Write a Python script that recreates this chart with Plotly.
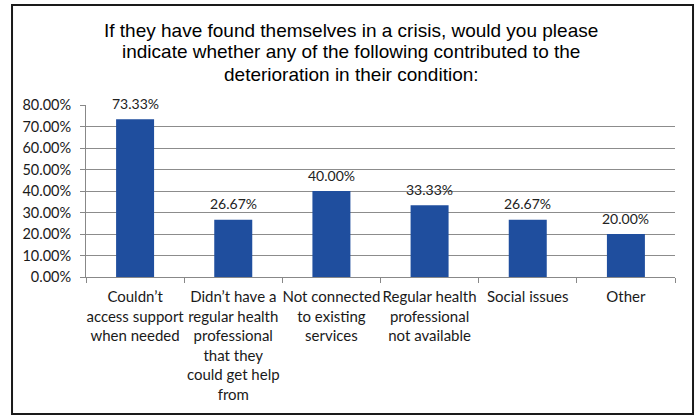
import plotly.graph_objects as go

# Survey responses: contributing factors to deterioration
categories = [
    "Couldn’t<br>access support<br>when needed",
    "Didn’t have a<br>regular health<br>professional<br>that they<br>could get help<br>from",
    "Not connected<br>to existing<br>services",
    "Regular health<br>professional<br>not available",
    "Social issues",
    "Other",
]
values = [0.7333, 0.2667, 0.40, 0.3333, 0.2667, 0.20]
value_labels = ["73.33%", "26.67%", "40.00%", "33.33%", "26.67%", "20.00%"]

title_lines = [
    "If they have found themselves in a crisis, would you please",
    "indicate whether any of the following contributed to the",
    "deterioration in their condition:",
]

x_font = dict(family="Lato, Carlito, Calibri, sans-serif", size=15, color="#1a1a1a")
y_font = dict(family="Lato, Carlito, Calibri, sans-serif", size=14.5, color="#1a1a1a")
val_font = dict(family="Lato, Carlito, Calibri, sans-serif", size=14, color="#222222")
title_font = dict(family="Liberation Sans, Arial, sans-serif", size=19, color="black")

fig = go.Figure(go.Bar(
    x=categories,
    y=values,
    marker=dict(color="#1f4e9e", line=dict(width=0)),
    width=0.387,
    hoverinfo="x+y",
))

# value labels above each bar
annotations = [
    dict(x=c, y=v, xref="x", yref="y", text=t, showarrow=False,
         yanchor="middle", xanchor="center", yshift=16, font=val_font)
    for c, v, t in zip(categories, values, value_labels)
]

# three-line chart title, centred over the frame
for i, line in enumerate(title_lines):
    annotations.append(dict(
        x=0.45, y=1.0 + (75 - 22 * i) / 172, xref="paper", yref="paper",
        text=line, showarrow=False, xanchor="center", yanchor="middle",
        font=title_font,
    ))

fig.update_layout(
    width=700,
    height=417,
    margin=dict(l=86, r=25, t=105, b=140),
    paper_bgcolor="white",
    plot_bgcolor="white",
    showlegend=False,
    annotations=annotations,
    xaxis=dict(
        type="category",
        tickson="boundaries",
        ticks="outside",
        ticklen=5,
        tickcolor="#888888",
        showline=True,
        linecolor="#888888",
        linewidth=1,
        showgrid=False,
        tickfont=x_font,
        tickangle=0,
        ticklabelstandoff=6,
    ),
    yaxis=dict(
        range=[0, 0.8],
        dtick=0.1,
        tickformat=".2%",
        ticks="outside",
        ticklen=5,
        tickcolor="#888888",
        showline=True,
        linecolor="#888888",
        linewidth=1,
        showgrid=True,
        gridcolor="#8c8c8c",
        gridwidth=1,
        zeroline=False,
        tickfont=y_font,
        ticklabelstandoff=6,
    ),
    shapes=[dict(
        type="rect", xref="paper", yref="paper",
        x0=-0.1256, x1=1.0306, y0=-0.797, y1=1.581,
        line=dict(color="#1a1a1a", width=2),
        fillcolor="rgba(0,0,0,0)",
    )],
)

fig.write_html("out.html")
